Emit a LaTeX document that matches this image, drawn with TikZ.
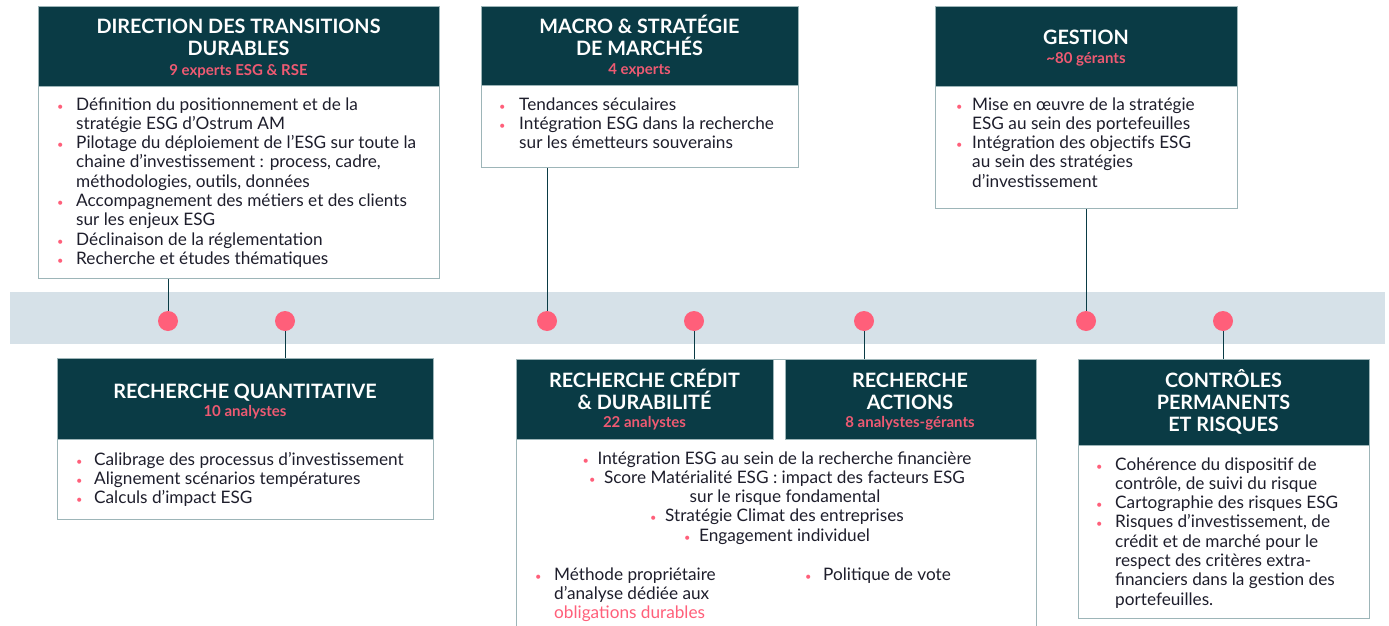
\documentclass[tikz,border=0pt]{standalone}
\usepackage{fontspec}
\setmainfont{Lato}
\definecolor{teal}{HTML}{0A3B45}
\definecolor{band}{HTML}{D6E1E8}
\definecolor{pk}{HTML}{FF5F7A}
\definecolor{subpk}{HTML}{EE5A72}
\definecolor{bord}{HTML}{9DB5B8}
\definecolor{txt}{HTML}{1E1E2C}
\newcommand{\bl}[1][19pt]{\makebox[#1][l]{\color{pk}\fontsize{11}{11}\selectfont\textbullet}}
\newcommand{\ind}[1][19pt]{\hspace*{#1}}
\begin{document}
\begin{tikzpicture}[x=1pt,y=-1pt,
  hdrbox/.style={fill=teal,draw=bord,line width=0.8pt,inner sep=0,anchor=north west},
  bodybox/.style={fill=white,draw=bord,line width=1.2pt,inner sep=0,anchor=north west},
  ttl/.style={text=white,font=\fontsize{19.8}{22}\selectfont\bfseries,inner sep=0,anchor=base},
  sub/.style={text=subpk,font=\fontsize{15}{16}\selectfont\bfseries,inner sep=0,anchor=base},
  bodytxt/.style={text=txt,font=\fontsize{17.2}{19.3}\selectfont,inner sep=0,anchor=base west},
  ctxt/.style={text=txt,font=\fontsize{17.2}{19.3}\selectfont,inner sep=0,anchor=base},
  conn/.style={draw=teal,line width=1pt},
  dotnode/.style={circle,fill=pk,minimum size=20pt,inner sep=0}]
\useasboundingbox (0,0) rectangle (1389,626);
\fill[white] (0,0) rectangle (1389,626);
% band
\node[fill=band,inner sep=0,minimum width=1375pt,minimum height=52pt,anchor=north west] (band) at (10,292) {};
% dots
\node[dotnode] (d1) at (168,321) {};
\node[dotnode] (d2) at (285,321) {};
\node[dotnode] (d3) at (547,321) {};
\node[dotnode] (d4) at (694,321) {};
\node[dotnode] (d5) at (864,321) {};
\node[dotnode] (d6) at (1086,321) {};
\node[dotnode] (d7) at (1223,321) {};

% ---------- Box 1
\node[bodybox,minimum width=401pt,minimum height=272pt] (b1) at (38,6) {};
\node[hdrbox,minimum width=401pt,minimum height=80pt] (h1) at (38,6) {};
\node[ttl] (t1a) at (238.5,34) {DIRECTION DES TRANSITIONS};
\node[ttl] (t1b) at (238.5,56) {DURABLES};
\node[sub] (t1s) at (238.5,75) {9 experts ESG \& RSE};
\node[bodytxt] (x1) at (57,110) {\begin{tabular}[t]{@{}l@{}}
\bl Définition du positionnement et de la\\
\ind stratégie ESG d’Ostrum AM\\
\bl Pilotage du déploiement de l’ESG sur toute la\\
\ind chaine d’investissement : process, cadre,\\
\ind méthodologies, outils, données\\
\bl Accompagnement des métiers et des clients\\
\ind sur les enjeux ESG\\
\bl Déclinaison de la réglementation\\
\bl Recherche et études thématiques
\end{tabular}};

% ---------- Box 2
\node[bodybox,minimum width=317pt,minimum height=161pt] (b2) at (481,6) {};
\node[hdrbox,minimum width=317pt,minimum height=79pt] (h2) at (481,6) {};
\node[ttl] (t2a) at (639.5,34) {MACRO \& STRATÉGIE};
\node[ttl] (t2b) at (639.5,56) {DE MARCHÉS};
\node[sub] (t2s) at (639.5,74.5) {4 experts};
\node[bodytxt] (x2) at (499,110) {\begin{tabular}[t]{@{}l@{}}
\bl[20pt]Tendances séculaires\\
\bl[20pt]Intégration ESG dans la recherche\\
\ind[20pt]sur les émetteurs souverains
\end{tabular}};

% ---------- Box 3
\node[bodybox,minimum width=302pt,minimum height=202pt] (b3) at (935,6) {};
\node[hdrbox,minimum width=302pt,minimum height=80pt] (h3) at (935,6) {};
\node[ttl] (t3a) at (1086,45) {GESTION};
\node[sub] (t3s) at (1086,63.5) {\textasciitilde 80 gérants};
\node[bodytxt] (x3) at (956,110) {\begin{tabular}[t]{@{}l@{}}
\bl[16pt]Mise en œuvre de la stratégie\\
\ind[16pt]ESG au sein des portefeuilles\\
\bl[16pt]Intégration des objectifs ESG\\
\ind[16pt]au sein des stratégies\\
\ind[16pt]d’investissement
\end{tabular}};

% ---------- Box 4
\node[bodybox,minimum width=376pt,minimum height=161pt] (b4) at (57,358) {};
\node[hdrbox,minimum width=376pt,minimum height=81pt] (h4) at (57,358) {};
\node[ttl] (t4a) at (245,398) {RECHERCHE QUANTITATIVE};
\node[sub] (t4s) at (245,416.5) {10 analystes};
\node[bodytxt] (x4) at (76,465) {\begin{tabular}[t]{@{}l@{}}
\bl[18pt]Calibrage des processus d’investissement\\
\bl[18pt]Alignement scénarios températures\\
\bl[18pt]Calculs d’impact ESG
\end{tabular}};

% ---------- Box 5/6
\node[bodybox,minimum width=520pt,minimum height=280pt] (b5) at (516,359) {};
\node[hdrbox,minimum width=257pt,minimum height=80pt] (h5) at (516,359) {};
\node[hdrbox,minimum width=251pt,minimum height=80pt] (h6) at (785,359) {};
\node[ttl] (t5a) at (644.5,387) {RECHERCHE CRÉDIT};
\node[ttl] (t5b) at (644.5,409) {\& DURABILITÉ};
\node[sub] (t5s) at (644.5,427) {22 analystes};
\node[ttl] (t6a) at (910,387) {RECHERCHE};
\node[ttl] (t6b) at (910,409) {ACTIONS};
\node[sub] (t6s) at (910,427) {8 analystes-gérants};
\node[ctxt] (c1) at (777,464) {\bl[15pt]Intégration ESG au sein de la recherche financière};
\node[ctxt] (c2) at (777,483.3) {\bl[15pt]Score Matérialité ESG : impact des facteurs ESG};
\node[ctxt] (c3) at (785,502.6) {sur le risque fondamental};
\node[ctxt] (c4) at (777,521.9) {\bl[15pt]Stratégie Climat des entreprises};
\node[ctxt] (c5) at (777,541.2) {\bl[15pt]Engagement individuel};
\node[bodytxt] (x5) at (535,580) {\begin{tabular}[t]{@{}l@{}}
\bl Méthode propriétaire\\
\ind d’analyse dédiée aux\\
\ind{\color{pk}obligations durables}
\end{tabular}};
\node[bodytxt] (x6) at (805,580) {\begin{tabular}[t]{@{}l@{}}
\bl[18pt]Politique de vote
\end{tabular}};

% ---------- Box 7
\node[bodybox,minimum width=291pt,minimum height=259pt] (b7) at (1078,359) {};
\node[hdrbox,minimum width=291pt,minimum height=86pt] (h7) at (1078,359) {};
\node[ttl] (t7a) at (1223.5,387) {CONTRÔLES};
\node[ttl] (t7b) at (1223.5,409) {PERMANENTS};
\node[ttl] (t7c) at (1223.5,431) {ET RISQUES};
\node[bodytxt] (x7) at (1096,470) {\begin{tabular}[t]{@{}l@{}}
\bl Cohérence du dispositif de\\
\ind contrôle, de suivi du risque\\
\bl Cartographie des risques ESG\\
\bl Risques d’investissement, de\\
\ind crédit et de marché pour le\\
\ind respect des critères extra-\\
\ind financiers dans la gestion des\\
\ind portefeuilles.
\end{tabular}};

% ---------- connectors
\draw[conn] (b1.south -| d1) -- (d1.north);
\draw[conn] (b2.south -| d3) -- (d3.north);
\draw[conn] (b3.south -| d6) -- (d6.north);
\draw[conn] (d2.south) -- (d2 |- h4.north);
\draw[conn] (d4.south) -- (d4 |- h5.north);
\draw[conn] (d5.south) -- (d5 |- h6.north);
\draw[conn] (d7.south) -- (d7 |- h7.north);
\end{tikzpicture}
\end{document}
